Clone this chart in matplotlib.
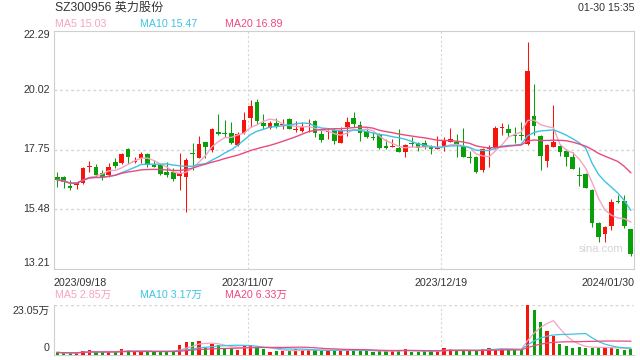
import matplotlib
matplotlib.use("Agg")
import matplotlib.pyplot as plt
import matplotlib.transforms as mtransforms
import numpy as np
import pandas as pd

plt.rcParams['font.family'] = ['Liberation Sans', 'Noto Sans CJK SC', 'DejaVu Sans']

title = "SZ300956 英力股份"
timestamp = "01-30 15:35"
date_labels = ['2023/09/18', '2023/11/07', '2023/12/19', '2024/01/30']
date_idx = [0, 30, 60, 89]
price_ticks = [22.29, 20.02, 17.75, 15.48, 13.21]
vol_top = 23.05

opens = [16.69, 16.69, 16.33, 16.41, 16.48, 17.08, 17.07, 16.84, 16.78, 17.28,
         17.25, 17.77, 17.28, 17.41, 17.58, 17.14, 17.16, 16.90, 16.90, 16.74,
         16.71, 17.61, 17.41, 18.05, 17.73, 18.40, 18.37, 18.39, 17.92, 18.37,
         18.96, 19.55, 18.77, 18.56, 18.77, 18.68, 18.91, 18.49, 18.47, 18.71,
         18.84, 18.34, 18.40, 18.49, 18.01, 18.62, 18.96, 18.68, 18.47, 18.24,
         18.33, 17.89, 17.85, 17.82, 17.67, 17.99, 17.99, 17.99, 17.88, 17.76,
         17.88, 18.05, 18.05, 17.88, 17.45, 17.48, 16.97, 17.78, 17.80, 18.57,
         18.53, 18.30, 18.30, 17.95, 19.03, 18.26, 17.32, 17.86, 17.88, 17.69,
         17.48, 16.76, 16.80, 16.20, 14.96, 14.53, 14.84, 15.79, 15.79, 14.70]
highs = [16.90, 16.74, 16.59, 16.52, 17.08, 17.32, 17.20, 16.97, 17.25, 17.41,
         17.63, 17.80, 17.48, 17.67, 17.61, 17.35, 17.20, 17.28, 17.03, 17.63,
         17.41, 17.99, 18.26, 18.05, 18.56, 19.10, 18.88, 18.81, 18.43, 19.17,
         19.64, 19.66, 19.10, 18.85, 18.94, 18.90, 18.96, 18.84, 18.81, 18.90,
         18.86, 18.49, 18.56, 18.58, 18.62, 19.00, 19.19, 18.84, 18.56, 18.43,
         18.37, 18.14, 18.14, 18.52, 17.96, 18.21, 18.05, 18.11, 17.92, 18.26,
         18.21, 18.56, 18.33, 18.56, 17.70, 17.50, 17.80, 17.92, 18.65, 18.75,
         18.72, 18.62, 18.81, 21.86, 20.25, 18.30, 17.95, 19.45, 17.92, 17.76,
         17.67, 17.09, 16.84, 16.23, 14.99, 14.83, 15.85, 16.01, 16.01, 14.70]
lows = [16.33, 16.28, 16.20, 16.23, 16.45, 16.90, 16.69, 16.59, 16.69, 17.03,
        17.20, 17.20, 17.25, 17.25, 17.07, 17.07, 16.78, 16.71, 16.56, 16.20,
        15.38, 16.97, 17.41, 17.41, 17.67, 18.30, 18.24, 17.96, 17.90, 18.34,
        18.62, 18.72, 18.52, 18.53, 18.56, 18.52, 18.52, 18.41, 18.43, 18.43,
        18.24, 18.05, 18.14, 17.96, 17.99, 18.26, 18.62, 18.09, 18.18, 18.11,
        17.77, 17.77, 17.84, 17.67, 17.45, 17.86, 17.70, 17.76, 17.57, 17.76,
        17.70, 18.02, 17.45, 17.45, 17.25, 16.84, 16.90, 17.09, 17.76, 18.30,
        18.24, 17.99, 18.11, 17.92, 18.30, 16.97, 17.09, 17.83, 17.50, 17.12,
        17.00, 16.36, 16.27, 14.78, 14.23, 14.23, 14.68, 15.70, 14.74, 13.68]
closes = [16.59, 16.51, 16.30, 16.46, 17.03, 17.12, 16.78, 16.69, 17.07, 17.12,
          17.58, 17.48, 17.32, 17.58, 17.16, 17.10, 16.82, 16.78, 16.61, 16.86,
          17.35, 17.56, 17.96, 17.86, 18.52, 18.35, 18.33, 17.99, 18.33, 18.88,
          19.41, 18.85, 18.66, 18.75, 18.66, 18.72, 18.53, 18.51, 18.62, 18.77,
          18.37, 18.11, 18.44, 18.07, 18.49, 18.81, 18.72, 18.37, 18.24, 18.19,
          17.80, 17.82, 17.87, 17.67, 17.92, 17.96, 17.80, 17.86, 17.76, 17.78,
          18.09, 18.14, 17.96, 17.48, 17.43, 16.90, 17.76, 17.80, 18.58, 18.60,
          18.37, 18.28, 18.28, 20.76, 18.66, 17.51, 17.92, 18.02, 17.67, 17.48,
          17.01, 16.73, 16.29, 14.96, 14.40, 14.80, 15.76, 15.76, 14.84, 13.76]
volumes = [1.2, 0.9, 0.9, 1.1, 2.0, 2.3, 1.5, 1.2, 1.5, 1.5,
           2.8, 2.3, 1.5, 1.5, 1.8, 1.5, 1.8, 1.5, 1.8, 4.6,
           6.1, 6.1, 6.6, 3.4, 5.1, 4.6, 3.1, 3.1, 2.3, 4.1,
           4.6, 3.4, 2.8, 1.5, 1.8, 1.8, 2.3, 2.8, 2.3, 2.3,
           2.3, 2.0, 2.3, 2.0, 2.3, 2.3, 2.3, 2.0, 1.8, 1.5,
           2.0, 1.8, 2.0, 2.0, 2.8, 1.5, 1.5, 1.8, 1.8, 2.0,
           3.4, 2.8, 1.8, 2.3, 1.8, 2.3, 2.8, 3.4, 2.8, 3.4,
           2.3, 2.3, 2.3, 23.05, 20.7, 15.4, 11.1, 8.8, 5.1, 4.1,
           3.4, 3.8, 3.4, 3.4, 3.4, 3.4, 3.4, 2.8, 2.4, 2.8]

ma_legend_price = ["MA5 15.03", "MA10 15.47", "MA20 16.89"]
ma_legend_vol = ["MA5 2.85万", "MA10 3.17万", "MA20 6.33万"]

RED = '#f5150b'
GREEN = '#0a9e0a'
MA_COLORS = ['#f6a3c3', '#3cc4e4', '#ea4a80']
GRID = '#d6d6d6'
TXT = '#333333'
FS = 7.7

o = np.array(opens); h = np.array(highs); l = np.array(lows); c = np.array(closes)
v = np.array(volumes)
n = len(c)
x = np.arange(n)
up = c >= o
cols = np.where(up, RED, GREEN)

fig = plt.figure(figsize=(6.4, 3.6), dpi=100)
W, H = 640.0, 360.0
ax = fig.add_axes([54 / W, 1 - 268.5 / H, 580 / W, 238 / H])
axv = fig.add_axes([54 / W, 1 - 355 / H, 580 / W, 50 / H])

# price panel
ax.set_xlim(-0.5, n - 0.5)
ax.set_ylim(13.21, 22.29)
for t in price_ticks[1:-1]:
    ax.axhline(t, color=GRID, lw=1.0, ls=(0, (2, 2)), zorder=0)
for d in date_idx[1:-1]:
    ax.axvline(d - 0.4, color=GRID, lw=0.8, ls=(0, (2, 2)), zorder=0)
ax.vlines(x, l, h, colors=cols, lw=0.75, zorder=2)
body_b = np.minimum(o, c)
body_h = np.maximum(np.abs(c - o), 0.04)
ax.bar(x, body_h, bottom=body_b, width=0.72, color=cols, lw=0, zorder=3)
cs = pd.Series(c)
for win, col in zip([5, 10, 20], MA_COLORS):
    ax.plot(x, cs.rolling(win, min_periods=1).mean(), color=col, lw=1.0, zorder=4)
for s in ax.spines.values():
    s.set_color('#cfcfcf'); s.set_linewidth(0.8)
ax.set_xticks([]); ax.set_yticks([])

for i, t in enumerate(price_ticks):
    dy = 0
    if i == 0:
        dy = -5
    elif i == len(price_ticks) - 1:
        dy = 5
    tr = mtransforms.offset_copy(ax.get_yaxis_transform(), fig=fig, x=-4, y=dy, units='dots')
    ax.text(0, t, f"{t:.2f}", transform=tr, ha='right', va='center', fontsize=FS, color=TXT)

for d, lab in zip(date_idx, date_labels):
    ha = 'center'
    xx = d - 0.4
    if d == 0:
        ha = 'left'; xx = -0.5
    elif d == n - 1:
        ha = 'right'; xx = n - 0.5
    ax.text(xx, -0.04, lab, transform=ax.get_xaxis_transform(), ha=ha, va='top',
            fontsize=FS, color=TXT)

ax.text(0.982, 0.08, "sina.com", transform=ax.transAxes, ha='right', va='center',
        fontsize=8, color='#d4d4d4')

# volume panel
axv.set_xlim(-0.5, n - 0.5)
axv.set_ylim(0, vol_top)
axv.bar(x, v, width=0.5, color=cols, lw=0, zorder=3)
vs = pd.Series(v)
for win, col in zip([5, 10, 20], MA_COLORS):
    axv.plot(x, vs.rolling(win, min_periods=1).mean(), color=col, lw=0.9, zorder=4)
axv.axhline(vol_top, color=GRID, lw=1.0, ls=(0, (2, 2)), zorder=0)
for d in date_idx[1:-1]:
    axv.axvline(d - 0.4, color=GRID, lw=0.8, ls=(0, (2, 2)), zorder=0)
for k in ['top', 'right']:
    axv.spines[k].set_visible(False)
for k in ['left', 'bottom']:
    axv.spines[k].set_color('#cfcfcf'); axv.spines[k].set_linewidth(0.8)
axv.set_xticks([]); axv.set_yticks([])
trv = mtransforms.offset_copy(axv.get_yaxis_transform(), fig=fig, x=-4, y=-6, units='dots')
axv.text(0, vol_top, f"{vol_top:.2f}万", transform=trv, ha='right', va='center', fontsize=FS, color=TXT)
trv0 = mtransforms.offset_copy(axv.get_yaxis_transform(), fig=fig, x=-4, y=7, units='dots')
axv.text(0, 0, "0", transform=trv0, ha='right', va='center', fontsize=FS, color=TXT)

# header texts
fig.text(55 / W, 1 - 8 / H, title, ha='left', va='center', fontsize=8.7, color=TXT)
fig.text(634 / W, 1 - 8 / H, timestamp, ha='right', va='center', fontsize=FS, color=TXT)
for k, (lab, col) in enumerate(zip(ma_legend_price, MA_COLORS)):
    fig.text((55 + 85 * k) / W, 1 - 24 / H, lab, ha='left', va='center', fontsize=FS, color=col)
for k, (lab, col) in enumerate(zip(ma_legend_vol, MA_COLORS)):
    fig.text((55 + 85 * k) / W, 1 - 295 / H, lab, ha='left', va='center', fontsize=FS, color=col)

fig.savefig("out.png", dpi=100)
